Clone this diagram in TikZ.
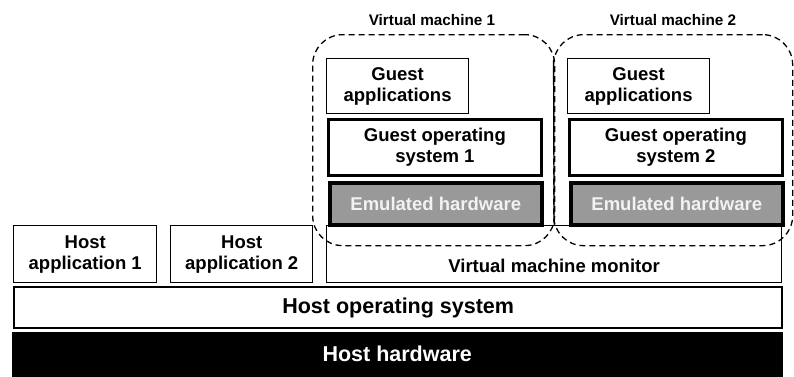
\documentclass[tikz,border=0pt]{standalone}
\usepackage{fontspec}
\setmainfont{Liberation Sans}
\begin{document}
\begin{tikzpicture}[x=1pt, y=-1pt,
  layer/.style={draw, fill=white, align=center, inner sep=0pt, anchor=north west,
    font=\bfseries\fontsize{18.5}{21}\selectfont},
  emul/.style={layer, fill=black!40, text=black!5, line width=3.5pt},
  hostlayer/.style={layer, font=\bfseries\fontsize{21.5}{24}\selectfont},
  vmbox/.style={draw, dash pattern=on 6pt off 4pt, line width=1.3pt,
    rounded corners=30pt, anchor=north west, inner sep=0pt},
  vmlabel/.style={font=\bfseries\fontsize{15.3}{17}\selectfont}]
\useasboundingbox (0,0) rectangle (794,376);

% host hardware and host operating system
\node[hostlayer, fill=black, text=white, minimum width=770, minimum height=44] (hhw) at (12,332) {Host hardware};
\node[hostlayer, line width=2.4pt, minimum width=768, minimum height=41] (hos) at (13,286) {Host operating system};

% host applications
\node[layer, line width=1.4pt, minimum width=143, minimum height=57] (happ1) at (13,225) {Host\\application 1};
\node[layer, line width=1.4pt, minimum width=142, minimum height=57] (happ2) at (170,225) {Host\\application 2};

% virtual machine monitor
\node[layer, line width=1.2pt, minimum width=455, minimum height=57, text depth=0pt] (vmm) at (326,225) {\raisebox{-18pt}{Virtual machine monitor}};
\coordinate (split) at (553.5,60);
\draw[line width=1.2pt] (vmm.north) -- (split);

% virtual machine 1
\node[layer, line width=1.2pt, minimum width=142, minimum height=55] (gapp1) at (326,58) {Guest\\applications};
\node[layer, line width=2.8pt, minimum width=213, minimum height=56] (gos1) at (327,118) {Guest operating\\system 1};
\node[emul, minimum width=212, minimum height=42] (emu1) at (328,181) {Emulated hardware};

% virtual machine 2
\node[layer, line width=1.2pt, minimum width=142, minimum height=55] (gapp2) at (567,58) {Guest\\applications};
\node[layer, line width=2.8pt, minimum width=213, minimum height=56] (gos2) at (568,118) {Guest operating\\system 2};
\node[emul, minimum width=212, minimum height=42] (emu2) at (569,181) {Emulated hardware};

% dashed machine borders
\node[vmbox, minimum width=242, minimum height=211] (vm1) at (312,34) {};
\node[vmbox, minimum width=239, minimum height=211] (vm2) at (553,34) {};
\node[vmlabel] (vm1lab) at (432,20) {Virtual machine 1};
\node[vmlabel] (vm2lab) at (673,20) {Virtual machine 2};
\end{tikzpicture}
\end{document}
